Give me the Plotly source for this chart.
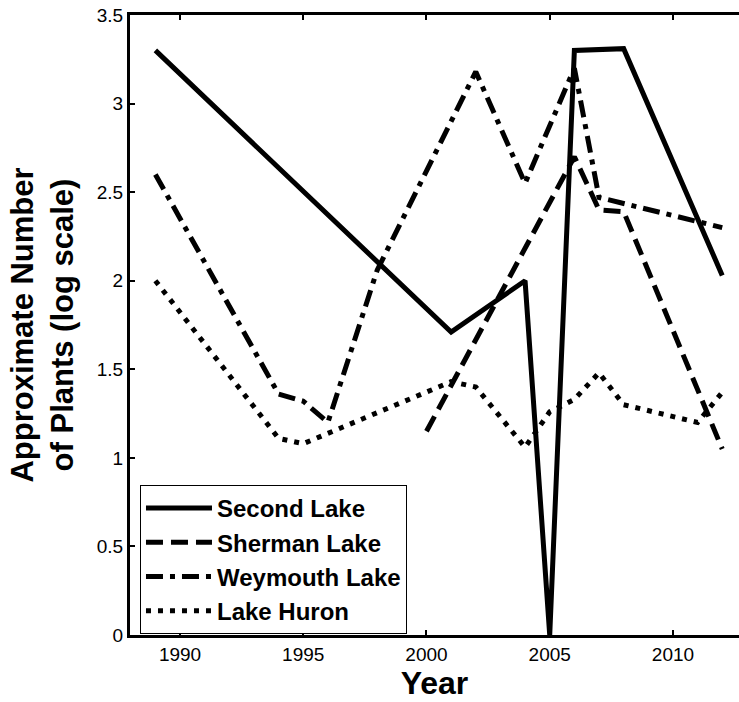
import plotly.graph_objects as go

# ---- data ----
second_years = [1989, 2001, 2004, 2005, 2006, 2008, 2012]
second_vals = [3.30, 1.71, 2.00, 0.00, 3.30, 3.31, 2.03]

sherman_years = [2000, 2006, 2007, 2008, 2012]
sherman_vals = [1.15, 2.70, 2.40, 2.39, 1.05]

weymouth_years = [1989, 1994, 1995, 1996, 1998, 2002, 2004, 2006, 2007, 2012]
weymouth_vals = [2.60, 1.36, 1.32, 1.20, 2.06, 3.18, 2.55, 3.20, 2.47, 2.30]

huron_years = [1989, 1994, 1995, 2001, 2002, 2004, 2005, 2006, 2007, 2008, 2011, 2012]
huron_vals = [2.00, 1.11, 1.08, 1.43, 1.40, 1.06, 1.26, 1.33, 1.48, 1.30, 1.20, 1.37]

x_ticks = [1990, 1995, 2000, 2005, 2010]
y_ticks = [0, 0.5, 1, 1.5, 2, 2.5, 3, 3.5]
y_tick_text = ["0", "0.5", "1", "1.5", "2", "2.5", "3", "3.5"]

FONT = "Liberation Sans, Arial, sans-serif"
LW = 5

series = [
    ("Second Lake", second_years, second_vals, "solid"),
    ("Sherman Lake", sherman_years, sherman_vals, "17px,8px"),
    ("Weymouth Lake", weymouth_years, weymouth_vals, "17px,7px,5px,7px"),
    ("Lake Huron", huron_years, huron_vals, "5px,7px"),
]

fig = go.Figure()
for i, (name, xs, ys, dash) in enumerate(series):
    fig.add_trace(go.Scatter(
        x=xs, y=ys, mode="lines", name=name,
        line=dict(color="black", width=LW, dash=dash),
    ))

fig.update_layout(
    width=739, height=702,
    margin=dict(l=130, r=0, t=15, b=67, autoexpand=False),
    paper_bgcolor="white", plot_bgcolor="white",
    font=dict(family=FONT, color="black"),
    showlegend=True,
    legend=dict(
        x=0.0164, y=0.2419, xanchor="left", yanchor="top",
        bordercolor="black", borderwidth=1, bgcolor="white",
        font=dict(size=24, weight="bold", family=FONT),
        itemwidth=66,
    ),
    xaxis=dict(
        range=[1987.97, 2012.68], tickmode="array", tickvals=x_ticks,
        ticks="inside", ticklen=5, tickwidth=1.5, tickcolor="black",
        showline=True, linewidth=3, linecolor="black", mirror="ticks",
        showgrid=False, zeroline=False, automargin=False,
        tickfont=dict(size=19, family=FONT),
        title=dict(text="Year", font=dict(size=32, weight="bold", family=FONT), standoff=0),
    ),
    yaxis=dict(
        range=[0, 3.5], tickmode="array", tickvals=y_ticks, ticktext=y_tick_text,
        ticks="inside", ticklen=5, tickwidth=1.5, tickcolor="black",
        showline=True, linewidth=3, linecolor="black", mirror=False,
        showgrid=False, zeroline=False, automargin=False,
        tickfont=dict(size=19, family=FONT),
        title=dict(text="Approximate Number<br>of Plants (log scale)",
                   font=dict(size=31, weight="bold", family=FONT), standoff=14),
    ),
)

fig.write_html(
    "out.html",
    config={"displayModeBar": False},
    post_script="document.body.style.margin='0';document.body.style.overflow='hidden';",
)
